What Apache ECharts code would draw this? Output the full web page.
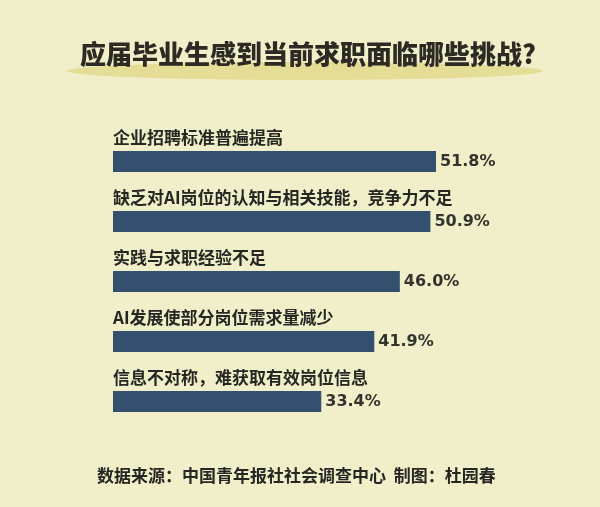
<!DOCTYPE html>
<html>
<head>
<meta charset="utf-8">
<script src="https://cdn.jsdelivr.net/npm/echarts@6/dist/echarts.min.js"></script>
<style>
	html, body { margin: 0; padding: 0; background: #f0efca; }
	#chart { width: 600px; height: 507px; }
</style>
</head>
<body>
<div id="chart"></div>
<script>
// data
const categories = [
	'企业招聘标准普遍提高',
	'缺乏对AI岗位的认知与相关技能，竞争力不足',
	'实践与求职经验不足',
	'AI发展使部分岗位需求量减少',
	'信息不对称，难获取有效岗位信息'
];
const values = [51.8, 50.9, 46.0, 41.9, 33.4];

const titleText = '应届毕业生感到当前求职面临哪些挑战?';
const sourceText = '数据来源：中国青年报社社会调查中心  制图：杜园春';

const fontCJK = '"Noto Sans CJK SC", "Noto Sans", sans-serif';

var myChart = echarts.init(document.getElementById('chart'));

var option = {
	backgroundColor: '#f0efca',
	animation: false,
	title: [
		{
			text: sourceText,
			left: 92,
			top: 462,
			textStyle: {
				fontFamily: fontCJK,
				fontSize: 17,
				fontWeight: 'bold',
				color: '#262622'
			}
		}
	],
	graphic: [
		{
			type: 'ellipse',
			z: -1,
			shape: { cx: 305, cy: 71, rx: 238, ry: 9 },
			style: { fill: '#e5dd96' }
		},
		{
			type: 'text',
			x: 308,
			y: 54,
			style: {
				text: titleText,
				align: 'center',
				verticalAlign: 'middle',
				fontFamily: fontCJK,
				fontSize: 26,
				fontWeight: 900,
				fill: '#2d2a24'
			}
		}
	],
	grid: {
		left: 113,
		right: 50.5,
		top: 131.5,
		bottom: 75.5
	},
	xAxis: {
		type: 'value',
		min: 0,
		max: 70,
		show: false
	},
	yAxis: {
		type: 'category',
		inverse: true,
		data: categories,
		show: false
	},
	series: [
		{
			type: 'bar',
			data: values,
			barWidth: 21,
			itemStyle: { color: '#34506f' },
			label: {
				show: true,
				position: 'right',
				distance: 4,
				formatter: (p) => p.value.toFixed(1) + '%',
				fontFamily: '"DejaVu Sans", sans-serif',
				fontSize: 16,
				fontWeight: 'bold',
				color: '#33332e'
			}
		},
		{
			// category names above each bar
			type: 'bar',
			data: values,
			barWidth: 21,
			barGap: '-100%',
			silent: true,
			itemStyle: { color: 'transparent' },
			label: {
				show: true,
				position: [0, -5],
				align: 'left',
				verticalAlign: 'bottom',
				formatter: (p) => categories[p.dataIndex],
				fontFamily: fontCJK,
				fontSize: 17,
				fontWeight: 'bold',
				color: '#262622'
			}
		}
	]
};

myChart.setOption(option);
</script>
</body>
</html>
